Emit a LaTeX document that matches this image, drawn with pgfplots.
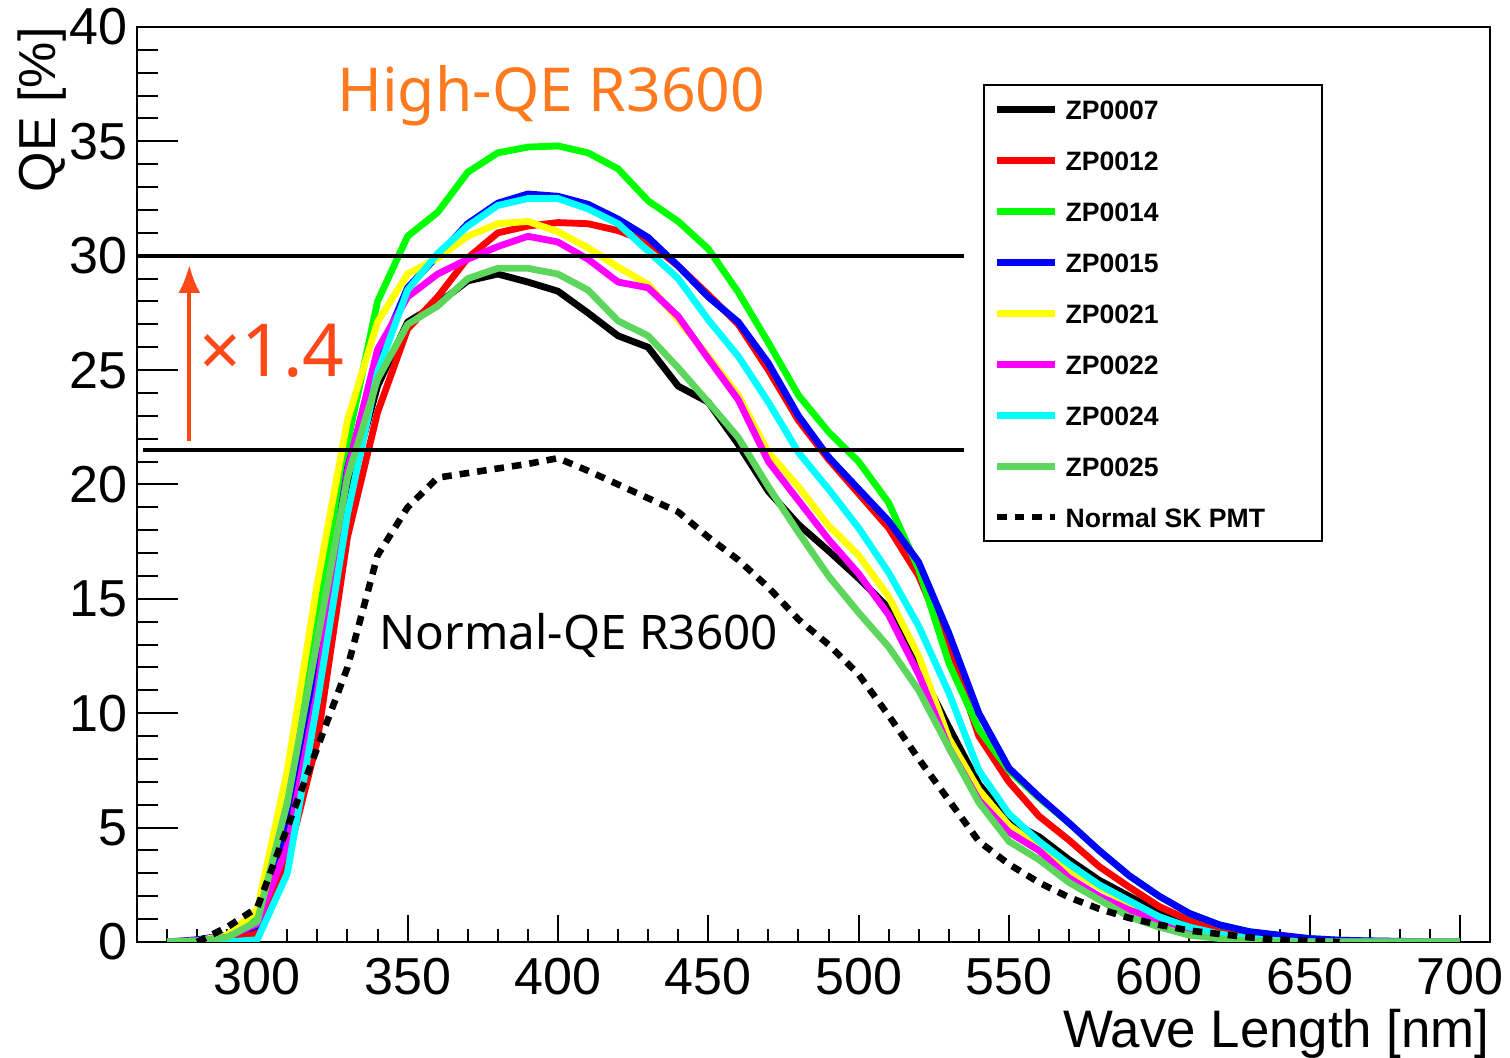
\documentclass[border=0pt]{standalone}
\usepackage{fontspec}
\setmainfont{Liberation Sans}
\newfontfamily\annotfont{Noto Sans}
\usepackage{pgfplots}
\usepackage{pgfplotstable}
\pgfplotsset{compat=1.18}
\usetikzlibrary{arrows.meta}
\definecolor{zpg}{RGB}{92,214,92}
\definecolor{pred}{RGB}{255,0,0}
\definecolor{pgreen}{RGB}{0,255,0}
\definecolor{pblue}{RGB}{0,0,255}
\definecolor{pyellow}{RGB}{255,255,0}
\definecolor{pmagenta}{RGB}{255,0,255}
\definecolor{pcyan}{RGB}{0,255,255}
\definecolor{hiqe}{RGB}{255,122,30}
\definecolor{arr}{RGB}{255,72,24}

\pgfplotstableread{
lam  z07   z12   z14   z15   z21   z22   z24   z25   sk
270  0     0     0     0     0     0     0     0     nan
280  0.05  0     0.05  0.1   0.05  0.05  0     0.05  0
290  0.2   0.1   0.2   0.3   0.3   0.2   0     0.2   0.65
300  0.9   0.4   1.2   0.7   1.4   0.8   0.1   0.9   1.5
310  5.8   3.6   6.7   5.0   7.5   4.2   3.0   6.1   5.0
320  12.5  8.8   14.5  11.8  15.7  11.0  10.5  13.2  8.5
330  19.5  17.7  21.8  20.7  22.8  20.6  18.7  20.3  12.0
340  24.3  23.15 28.0  25.5  27.1  25.9  24.9  24.6  16.9
350  27.1  26.8  30.85 28.6  29.2  28.2  28.5  27.0  19.0
360  27.9  28.2  31.9  30.0  29.9  29.2  30.1  27.8  20.3
370  28.9  29.9  33.65 31.4  30.85 29.85 31.3  29.0  20.5
380  29.2  31.0  34.5  32.3  31.4  30.4  32.2  29.45 20.7
390  28.85 31.3  34.75 32.7  31.5  30.85 32.5  29.45 20.9
400  28.45 31.45 34.8  32.6  31.05 30.6  32.5  29.2  21.15
410  27.5  31.4  34.5  32.25 30.35 29.85 32.05 28.5  20.6
420  26.5  31.1  33.8  31.6  29.5  28.85 31.4  27.15 20.0
430  26.0  30.6  32.4  30.8  28.75 28.6  30.2  26.5  19.4
440  24.3  29.55 31.5  29.55 27.2  27.35 29.0  25.1  18.8
450  23.6  28.3  30.3  28.2  25.6  25.5  27.2  23.6  17.7
460  21.75 27.0  28.4  27.1  23.9  23.7  25.6  22.05 16.7
470  19.7  25.0  26.2  25.3  21.4  21.0  23.6  19.9  15.5
480  18.25 22.8  23.9  23.0  19.9  19.3  21.4  17.9  14.1
490  17.1  21.1  22.3  21.2  18.2  17.6  19.8  16.0  13.0
500  15.9  19.6  21.0  19.8  16.9  16.1  18.1  14.4  11.7
510  14.6  18.1  19.2  18.4  15.1  14.3  16.15 12.9  9.9
520  12.0  16.0  16.3  16.6  12.5  11.7  13.8  11.0  8.0
530  9.4   12.9  12.2  13.5  8.9   8.5   10.9  8.5   6.2
540  6.9   9.0   9.3   10.0  6.65  6.2   7.5   6.1   4.4
550  5.3   7.0   7.5   7.6   5.1   4.8   5.6   4.4   3.4
560  4.6   5.5   6.3   6.35  4.15  4.0   4.4   3.6   2.6
570  3.6   4.45  5.2   5.2   3.15  2.8   3.4   2.6   1.95
580  2.7   3.3   4.0   4.0   2.4   2.0   2.5   1.85  1.45
590  2.0   2.4   2.9   2.9   1.7   1.4   1.8   1.1   1.05
600  1.3   1.55  2.0   2.0   1.1   0.95  1.1   0.65  0.75
610  0.75  0.95  1.25  1.25  0.6   0.55  0.65  0.3   0.5
620  0.4   0.5   0.75  0.75  0.3   0.3   0.35  0.15  0.35
630  0.2   0.25  0.45  0.45  0.15  0.1   0.15  0.05  0.2
640  0.1   0.1   0.28  0.3   0.05  0.05  0.05  0     0.1
650  0.05  0.05  0.15  0.15  0     0     0     0     0.05
660  0.02  0     0.08  0.08  0     0     0     0     0
670  0     0     0.04  0.05  0     0     0     0     nan
680  0     0     0.02  0.03  0     0     0     0     nan
690  0     0     0     0.01  0     0     0     0     nan
700  0     0     0     0     0     0     0     0     nan
}\qedata

\begin{document}
\begin{tikzpicture}
\useasboundingbox (-68.5pt,-58pt) rectangle (686.5pt,471pt);
\begin{axis}[
  at={(0pt,0pt)}, anchor=south west,
  scale only axis, width=676.5pt, height=457.5pt,
  xmin=260, xmax=710, ymin=0, ymax=40,
  xtick={300,350,...,700}, ytick={0,5,...,40},
  minor xtick={270,280,...,700}, minor ytick={0,1,...,40},
  tick pos=left, tick align=inside,
  axis line style={line width=1pt},
  tick style={black, line width=1pt},
  xtick style={/pgfplots/major tick length=13.5pt,/pgfplots/minor tick length=6.5pt},
  ytick style={/pgfplots/major tick length=20.5pt,/pgfplots/minor tick length=10.5pt},
  ticklabel style={font=\fontsize{26}{26}\selectfont, inner sep=0pt},
  /pgf/number format/assume math mode=true,
  /pgf/number format/1000 sep={},
  yticklabel style={xshift=-4.5pt},
  xticklabel style={yshift=-8pt},
  xlabel={Wave Length [nm]},
  ylabel={QE [\%]},
  every axis x label/.style={at={(axis description cs:1,-0.11585)}, anchor=base east, inner sep=0pt, font=\fontsize{26.4}{27}\selectfont},
  every axis y label/.style={at={(axis description cs:-0.0606,1)}, rotate=90, anchor=base east, inner sep=0pt, font=\fontsize{26}{27}\selectfont},
  legend style={at={(axis cs:541.3,37.5)}, anchor=north west, draw=black, line width=1pt, fill=white,
    inner xsep=5pt, inner ysep=7pt, row sep=15.5pt, column sep=3.5pt,
    font=\fontsize{13.3}{14}\selectfont\bfseries,
    nodes={inner sep=0pt, text height=10pt, text depth=0pt}},
  legend cell align=left,
  legend image code/.code={\draw[#1] (0pt,0pt) -- (29pt,0pt);},
]
\addplot[black, line width=3.4pt, line join=round] table[x=lam,y=z07]{\qedata};
\addlegendentry{\makebox[123pt][l]{ZP0007}}
\addplot[pred, line width=3.4pt, line join=round] table[x=lam,y=z12]{\qedata};
\addlegendentry{ZP0012}
\addplot[pgreen, line width=3.4pt, line join=round] table[x=lam,y=z14]{\qedata};
\addlegendentry{ZP0014}
\addplot[pblue, line width=3.4pt, line join=round] table[x=lam,y=z15]{\qedata};
\addlegendentry{ZP0015}
\addplot[pyellow, line width=3.4pt, line join=round] table[x=lam,y=z21]{\qedata};
\addlegendentry{ZP0021}
\addplot[pmagenta, line width=3.4pt, line join=round] table[x=lam,y=z22]{\qedata};
\addlegendentry{ZP0022}
\addplot[pcyan, line width=3.4pt, line join=round] table[x=lam,y=z24]{\qedata};
\addlegendentry{ZP0024}
\addplot[zpg, line width=3.4pt, line join=round] table[x=lam,y=z25]{\qedata};
\addlegendentry{ZP0025}
\addplot[black, line width=3.3pt, dash pattern=on 4.8pt off 4pt] table[x=lam,y=sk]{\qedata};
\addlegendentry{Normal SK PMT}
\addplot[black, line width=2.1pt, forget plot] coordinates {(260,30) (535,30)};
\addplot[black, line width=2.1pt, forget plot] coordinates {(262,21.5) (535,21.5)};
\node[font=\annotfont\fontsize{30.3}{31}\selectfont, text=hiqe, anchor=base, inner sep=0pt] at (axis cs:397.8,36.3) {High-QE R3600};
\node[font=\annotfont\fontsize{36.5}{37}\selectfont, text=arr, anchor=base west, inner sep=0pt] at (axis cs:280.7,24.7) {×1.4};
\node[font=\annotfont\fontsize{23.8}{24}\selectfont, anchor=base west, inner sep=0pt] at (axis cs:340.6,12.78) {Normal-QE R3600};
\draw[arr, line width=2pt, -{Latex[length=14pt,width=11pt]}] (axis cs:277.4,21.9) -- (axis cs:277.4,29.6);
\end{axis}
\end{tikzpicture}
\end{document}
